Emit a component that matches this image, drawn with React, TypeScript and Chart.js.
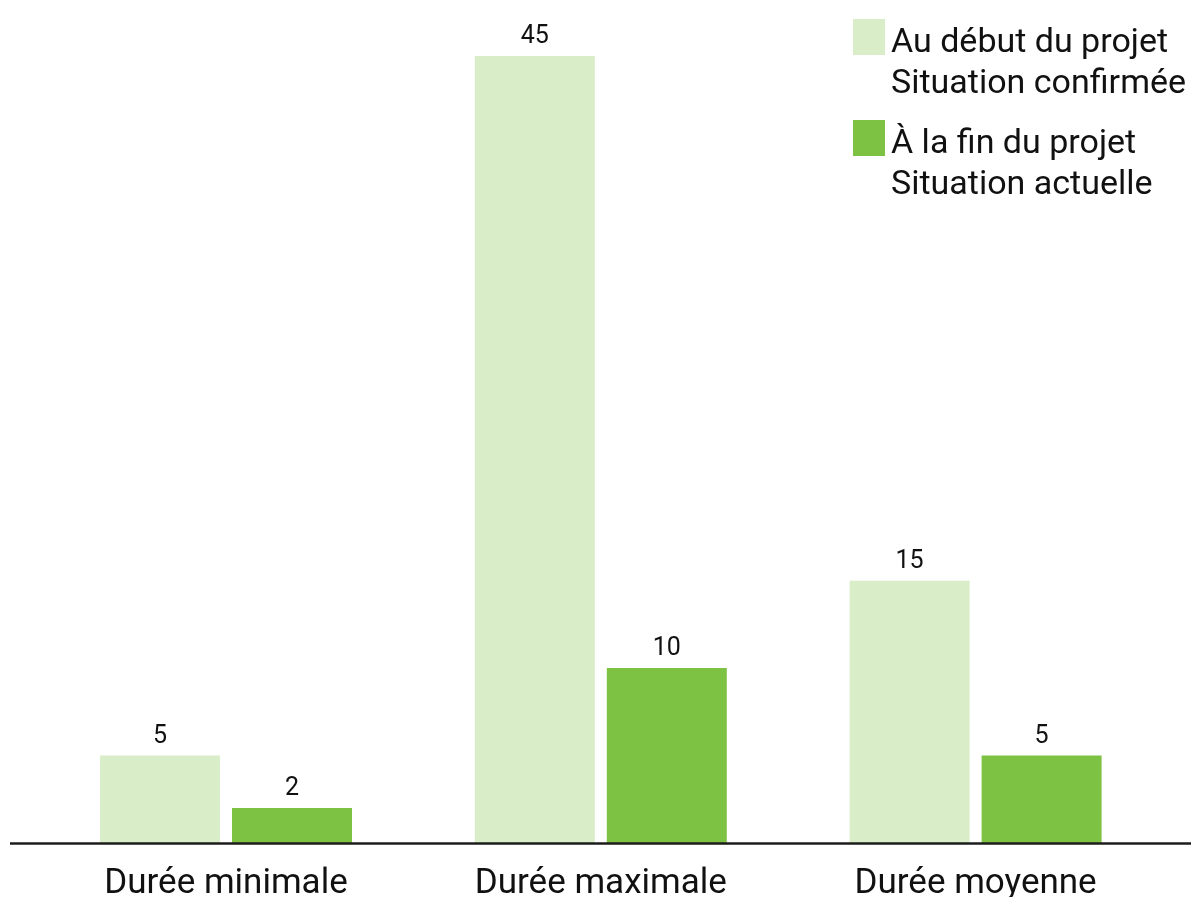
import React, { useEffect, useRef } from "react";
import { Chart, registerables } from "chart.js";

Chart.register(...registerables);

const categories = ["Durée minimale", "Durée maximale", "Durée moyenne"];
const startLegend = ["Au début du projet", "Situation confirmée"];
const endLegend = ["À la fin du projet", "Situation actuelle"];
const startValues = [5, 45, 15];
const endValues = [2, 10, 5];
const startColor = "#d9edc8";
const endColor = "#7dc243";
const FONT = "Roboto, 'Liberation Sans', sans-serif";

const overlayPlugin = {
  id: "overlayPlugin",
  afterDatasetsDraw(chart: any) {
    const ctx = chart.ctx as CanvasRenderingContext2D;
    const xs = chart.scales.x;
    const ys = chart.scales.y;
    ctx.save();
    // baseline
    const y0 = ys.getPixelForValue(0);
    ctx.strokeStyle = "#1c1c1c";
    ctx.lineWidth = 2.5;
    ctx.beginPath();
    ctx.moveTo(10, y0 + 0.5);
    ctx.lineTo(1191, y0 + 0.5);
    ctx.stroke();

    // value labels
    ctx.fillStyle = "#111";
    ctx.textAlign = "center";
    ctx.textBaseline = "alphabetic";
    ctx.font = `25px ${FONT}`;
    chart.data.datasets.forEach((ds: any, i: number) => {
      const meta = chart.getDatasetMeta(i);
      meta.data.forEach((bar: any, j: number) => {
        ctx.fillText(String(ds.data[j]), bar.x, bar.y - 13);
      });
    });

    // category labels
    ctx.font = `35px ${FONT}`;
    (chart.data.labels as string[]).forEach((lab, i) => {
      ctx.fillText(lab, xs.getPixelForValue(i), 893);
    });

    // legend
    ctx.textAlign = "left";
    ctx.font = `34px ${FONT}`;
    chart.data.datasets.forEach((ds: any, i: number) => {
      const top = 19 + i * 101;
      ctx.fillStyle = ds.backgroundColor;
      ctx.fillRect(853, top, 32, 36);
      ctx.fillStyle = "#111";
      (ds.label as string[]).forEach((line, k) => {
        ctx.fillText(line, 891, top + 33 + k * 41);
      });
    });
    ctx.restore();
  },
};

export default function App() {
  const ref = useRef<HTMLCanvasElement | null>(null);
  useEffect(() => {
    if (!ref.current) return;
    const chart = new Chart(ref.current, {
      type: "bar",
      data: {
        labels: categories,
        datasets: [
          { label: startLegend as any, data: startValues, backgroundColor: startColor },
          { label: endLegend as any, data: endValues, backgroundColor: endColor },
        ],
      },
      options: {
        responsive: false,
        animation: false,
        layout: { padding: { left: 38.6, right: 30, top: 56, bottom: 54 } },
        datasets: { bar: { categoryPercentage: 0.7044, barPercentage: 0.909 } },
        scales: {
          x: { display: false },
          y: { display: false, min: 0, max: 45 },
        },
        plugins: { legend: { display: false }, tooltip: { enabled: false } },
      },
      plugins: [overlayPlugin],
    });
    return () => chart.destroy();
  }, []);
  return (
    <div style={{ position: "absolute", left: 0, top: 0, width: 1193, height: 897, background: "#fff" }}>
      <canvas ref={ref} width={1193} height={897} style={{ width: 1193, height: 897, display: "block" }} />
    </div>
  );
}
